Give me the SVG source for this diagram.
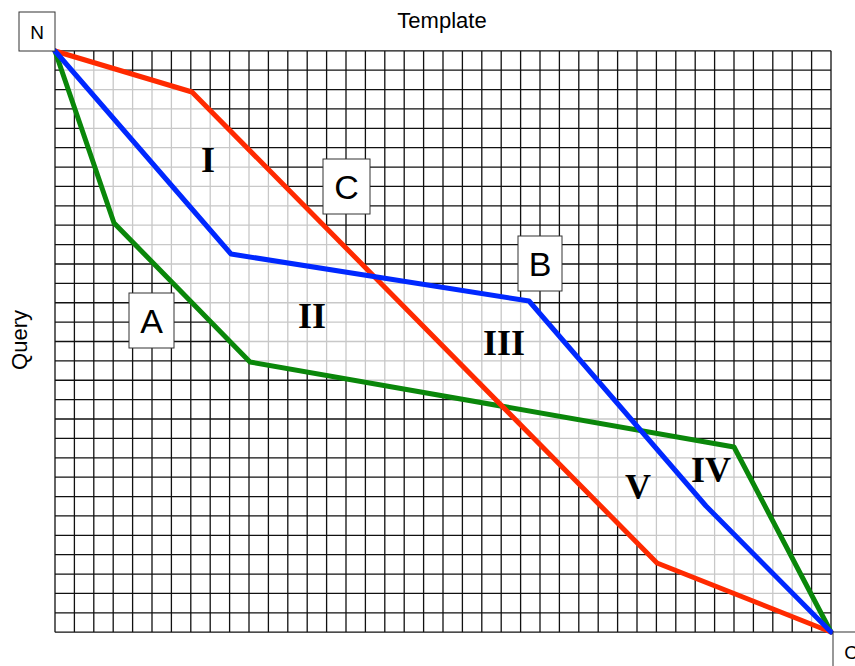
<svg xmlns="http://www.w3.org/2000/svg" xmlns:xlink="http://www.w3.org/1999/xlink" width="855" height="666" viewBox="0 0 855 666">
<style>
.lbl{font-family:"Liberation Sans",Arial,sans-serif;fill:#000;text-anchor:middle}
.rom{font-family:"Liberation Serif","Times New Roman",serif;font-weight:bold;font-size:36px;fill:#000;text-anchor:middle}
.box{fill:#fff;stroke:#333;stroke-width:1}
.curve{fill:none;stroke-width:5;stroke-linejoin:round;stroke-linecap:round}
</style>
<defs>
<path id="grid" fill="none" d="M55,50.8V632.2M74.4,50.8V632.2M93.8,50.8V632.2M113.2,50.8V632.2M132.6,50.8V632.2M152,50.8V632.2M171.4,50.8V632.2M190.8,50.8V632.2M210.2,50.8V632.2M229.6,50.8V632.2M249,50.8V632.2M268.4,50.8V632.2M287.8,50.8V632.2M307.2,50.8V632.2M326.6,50.8V632.2M346,50.8V632.2M365.4,50.8V632.2M384.8,50.8V632.2M404.2,50.8V632.2M423.6,50.8V632.2M443,50.8V632.2M462.4,50.8V632.2M481.8,50.8V632.2M501.2,50.8V632.2M520.6,50.8V632.2M540,50.8V632.2M559.4,50.8V632.2M578.8,50.8V632.2M598.2,50.8V632.2M617.6,50.8V632.2M637,50.8V632.2M656.4,50.8V632.2M675.8,50.8V632.2M695.2,50.8V632.2M714.6,50.8V632.2M734,50.8V632.2M753.4,50.8V632.2M772.8,50.8V632.2M792.2,50.8V632.2M811.6,50.8V632.2M831,50.8V632.2M55,50.8H831M55,70.18H831M55,89.56H831M55,108.94H831M55,128.32H831M55,147.7H831M55,167.08H831M55,186.46H831M55,205.84H831M55,225.22H831M55,244.6H831M55,263.98H831M55,283.36H831M55,302.74H831M55,322.12H831M55,341.5H831M55,360.88H831M55,380.26H831M55,399.64H831M55,419.02H831M55,438.4H831M55,457.78H831M55,477.16H831M55,496.54H831M55,515.92H831M55,535.3H831M55,554.68H831M55,574.06H831M55,593.44H831M55,612.82H831M55,632.2H831"/>
<polygon id="region" points="55,51 192,92 374.2,276.6 529,301 641,430.7 734,447 831,632 657,563 502.3,406.3 250,362 114,223"/>
<clipPath id="regclip"><use xlink:href="#region"/></clipPath>
</defs>
<rect width="855" height="666" fill="#fff"/>
<g id="grid-black">
<use xlink:href="#grid" stroke="#111" stroke-width="1.3"/>
</g>
<g id="band">
<use xlink:href="#region" fill="#fff"/>
<g clip-path="url(#regclip)"><use xlink:href="#grid" stroke="#c8c8c8" stroke-width="1.3"/></g>
</g>
<g id="connectors">
<polyline id="path-A" class="curve" stroke="#0a870a" points="55,51 114,223 250,362 734,447 831,632"/>
<polyline id="path-C" class="curve" stroke="#ff2a00" points="55,51 192,92 657,563 831,632"/>
<polyline id="path-B" class="curve" stroke="#0028ff" points="55,51 231,254 529,301 706,506 831,632"/>
</g>
<g id="region-labels">
<text class="rom" x="208" y="172">I</text>
<text class="rom" x="312" y="328">II</text>
<text class="rom" x="504" y="355">III</text>
<text class="rom" x="711" y="482">IV</text>
<text class="rom" x="638" y="499">V</text>
</g>
<g id="node-A"><rect class="box" x="129" y="293" width="45" height="55"/><text class="lbl" x="151.5" y="333" font-size="34">A</text></g>
<g id="node-B"><rect class="box" x="518" y="236" width="44" height="55"/><text class="lbl" x="540" y="276" font-size="34">B</text></g>
<g id="node-C"><rect class="box" x="323" y="159" width="47" height="55"/><text class="lbl" x="346.5" y="199" font-size="34">C</text></g>
<g id="node-N"><rect class="box" x="19" y="12" width="36" height="39"/><text class="lbl" x="37" y="38.5" font-size="19">N</text></g>
<g id="node-Cend"><rect class="box" x="833" y="632" width="36" height="39"/><text class="lbl" x="851" y="658.5" font-size="19">C</text></g>
<g id="axis-labels">
<text class="lbl" x="442" y="28" font-size="22">Template</text>
<text class="lbl" font-size="22" transform="translate(27,340) rotate(-90)">Query</text>
</g>
</svg>
